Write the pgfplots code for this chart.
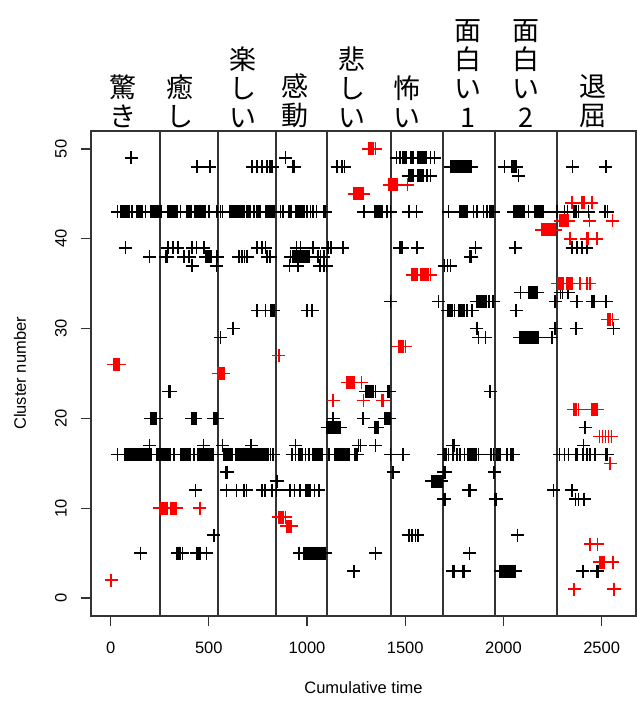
\documentclass[border=0pt]{standalone}
\usepackage{fontspec}
\setmainfont{Liberation Sans}
\newfontfamily\cjk{Noto Sans CJK JP}
\usepackage{pgfplots}
\pgfplotsset{compat=1.18}
\begin{document}
\begin{tikzpicture}
\useasboundingbox (-91bp,-91bp) rectangle (546bp,616bp);
\begin{axis}[
  at={(0,0)}, anchor=south west,
  scale only axis, width=545bp, height=485bp,
  xmin=-100, xmax=2675, ymin=-2, ymax=52,
  xtick={0,500,...,2500}, ytick={0,10,...,50},
  tick align=outside, tick pos=left,
  major tick length=10bp,
  every tick/.style={black!80, line width=1.2bp},
  axis line style={black!80, line width=1.5bp},
  /pgf/number format/assume math mode=true,
  /pgf/number format/1000 sep={},
  tick label style={font=\fontsize{16.5bp}{18bp}\selectfont},
  yticklabel style={rotate=90, anchor=south, inner sep=0pt},
  xticklabel style={anchor=north, inner sep=0pt},
  xticklabel shift=16bp, yticklabel shift=14bp,
  xlabel={Cumulative time}, ylabel={Cluster number},
  label style={font=\fontsize{16.5bp}{18bp}\selectfont},
  xlabel style={at={(axis description cs:0.5,-0.1485)}, anchor=center},
  ylabel style={at={(axis description cs:-0.1303,0.5)}, anchor=center},
  clip=false,
]
% black points
\addplot[only marks, mark=+, mark size=6.5bp, black, mark options={line width=1.6bp}] coordinates {
(105,49)(890,49)(1455,49)(1472,49)(1489,49)(1497,49)(1505,49)(1526,49)(1534,49)(1543,49)(1563,49)(1571,49)(1577,49)(1585,49)(1593,49)(1601,49)(1608,49)(1628,49)(1648,49)
(441,48)(505,48)(721,48)(746,48)(772,48)(797,48)(810,48)(816,48)(822,48)(929,48)(937,48)(1153,48)(1178,48)(1190,48)(1730,48)(1738,48)(1746,48)(1754,48)(1762,48)(1770,48)(1778,48)(1786,48)(1794,48)(1802,48)(1810,48)(1818,48)(1826,48)(1835,48)(2005,48)(2043,48)(2055,48)(2065,48)(2352,48)(2522,48)
(1518,47)(1526,47)(1534,47)(1540,47)(1563,47)(1571,47)(1579,47)(1587,47)(1591,47)(1611,47)(1628,47)(2077,47)
(34,43)(54,43)(62,43)(70,43)(78,43)(86,43)(95,43)(110,43)(132,43)(140,43)(148,43)(156,43)(161,43)(178,43)(204,43)(212,43)(220,43)(228,43)(236,43)(244,43)(252,43)(258,43)(292,43)(300,43)(308,43)(316,43)(324,43)(332,43)(339,43)(356,43)(387,43)(395,43)(403,43)(412,43)(429,43)(437,43)(445,43)(453,43)(461,43)(469,43)(477,43)(483,43)(500,43)(543,43)(560,43)(570,43)(605,43)(613,43)(621,43)(629,43)(637,43)(645,43)(653,43)(661,43)(669,43)(677,43)(682,43)(695,43)(702,43)(709,43)(729,43)(746,43)(754,43)(763,43)(790,43)(798,43)(806,43)(814,43)(822,43)(830,43)(834,43)(865,43)(878,43)(909,43)(919,43)(943,43)(951,43)(959,43)(967,43)(975,43)(983,43)(987,43)(1000,43)(1017,43)(1031,43)(1048,43)(1085,43)(1095,43)(1289,43)(1345,43)(1353,43)(1361,43)(1369,43)(1377,43)(1382,43)(1407,43)(1424,43)(1518,43)(1557,43)(1721,43)(1777,43)(1785,43)(1793,43)(1801,43)(1809,43)(1814,43)(1848,43)(1865,43)(1899,43)(1916,43)(1930,43)(1938,43)(1946,43)(1950,43)(2052,43)(2060,43)(2068,43)(2076,43)(2084,43)(2092,43)(2100,43)(2106,43)(2128,43)(2159,43)(2167,43)(2175,43)(2183,43)(2191,43)(2199,43)(2204,43)(2272,43)(2310,43)(2327,43)(2357,43)(2365,43)(2373,43)(2382,43)(2433,43)(2518,43)(2530,43)
(76,39)(292,39)(319,39)(342,39)(415,39)(437,39)(475,39)(746,39)(772,39)(789,39)(946,39)(966,39)(1031,39)(1106,39)(1122,39)(1182,39)(1472,39)(1484,39)(1560,39)(1857,39)(2060,39)(2350,39)(2375,39)(2400,39)(2425,39)
(198,38)(280,38)(288,38)(373,38)(399,38)(483,38)(491,38)(499,38)(507,38)(512,38)(543,38)(653,38)(670,38)(682,38)(695,38)(797,38)(812,38)(916,38)(930,38)(938,38)(946,38)(954,38)(962,38)(970,38)(978,38)(986,38)(994,38)(1002,38)(1009,38)(1055,38)(1068,38)(1085,38)(1831,38)(1838,38)
(415,37)(539,37)(911,37)(953,37)(1065,37)(1085,37)(1099,37)(1700,37)(1715,37)(1730,37)
(2086,34)(2128,34)(2136,34)(2144,34)(2152,34)(2160,34)(2171,34)(2290,34)(2300,34)(2330,34)
(1424,33)(1670,33)(1865,33)(1873,33)(1881,33)(1889,33)(1897,33)(1905,33)(1913,33)(1925,33)(1947,33)(2264,33)(2374,33)(2452,33)(2460,33)(2523,33)
(746,32)(789,32)(814,32)(822,32)(831,32)(1000,32)(1026,32)(1716,32)(1724,32)(1732,32)(1740,32)(1750,32)(1775,32)(1783,32)(1791,32)(1800,32)(1815,32)(1840,32)(2065,32)
(624,30)(1865,30)(2264,30)(2370,30)(2561,30)
(560,29)(1874,29)(1908,29)(2082,29)(2090,29)(2098,29)(2106,29)(2114,29)(2122,29)(2130,29)(2138,29)(2146,29)(2154,29)(2162,29)(2170,29)(2179,29)(2247,29)
(296,23)(304,23)(1297,23)(1305,23)(1313,23)(1321,23)(1329,23)(1337,23)(1348,23)(1412,23)(1418,23)(1933,23)
(204,20)(212,20)(220,20)(228,20)(234,20)(412,20)(418,20)(424,20)(430,20)(434,20)(526,20)(532,20)(538,20)(543,20)(1133,20)(1285,20)(1394,20)(1402,20)(1410,20)(1418,20)(1421,20)
(1102,19)(1110,19)(1118,19)(1126,19)(1134,19)(1142,19)(1150,19)(1158,19)(1166,19)(1170,19)(1345,19)(1353,19)(1361,19)(2416,19)
(198,17)(473,17)(570,17)(716,17)(941,17)(1262,17)(1272,17)(1348,17)(1743,17)(1748,17)(2408,17)
(34,16)(73,16)(81,16)(89,16)(97,16)(105,16)(113,16)(121,16)(129,16)(137,16)(145,16)(153,16)(161,16)(169,16)(177,16)(185,16)(193,16)(201,16)(209,16)(237,16)(245,16)(253,16)(261,16)(269,16)(277,16)(285,16)(293,16)(302,16)(324,16)(356,16)(364,16)(372,16)(380,16)(388,16)(396,16)(404,16)(407,16)(424,16)(444,16)(452,16)(460,16)(468,16)(476,16)(484,16)(492,16)(500,16)(508,16)(516,16)(524,16)(575,16)(583,16)(591,16)(599,16)(607,16)(615,16)(621,16)(636,16)(644,16)(652,16)(660,16)(668,16)(676,16)(684,16)(692,16)(700,16)(708,16)(716,16)(724,16)(732,16)(740,16)(748,16)(756,16)(764,16)(772,16)(780,16)(788,16)(797,16)(804,16)(814,16)(828,16)(924,16)(941,16)(958,16)(968,16)(975,16)(992,16)(1009,16)(1031,16)(1039,16)(1047,16)(1055,16)(1063,16)(1071,16)(1077,16)(1111,16)(1141,16)(1149,16)(1157,16)(1165,16)(1173,16)(1181,16)(1189,16)(1197,16)(1205,16)(1213,16)(1245,16)(1255,16)(1424,16)(1489,16)(1696,16)(1709,16)(1721,16)(1743,16)(1764,16)(1780,16)(1801,16)(1818,16)(1823,16)(1831,16)(1839,16)(1847,16)(1855,16)(1863,16)(1874,16)(1938,16)(1950,16)(1967,16)(1975,16)(1984,16)(2018,16)(2035,16)(2043,16)(2052,16)(2286,16)(2310,16)(2332,16)(2366,16)(2372,16)(2378,16)(2405,16)(2425,16)(2442,16)(2467,16)(2523,16)(2528,16)
(588,14)(594,14)(1438,14)(1696,14)(1704,14)(1953,14)
(844,13)(850,13)(1636,13)(1644,13)(1652,13)(1660,13)(1668,13)(1676,13)(1687,13)
(432,12)(590,12)(641,12)(678,12)(692,12)(772,12)(784,12)(789,12)(822,12)(844,12)(912,12)(936,12)(963,12)(992,12)(1000,12)(1008,12)(1014,12)(1038,12)(1060,12)(1823,12)(1830,12)(2255,12)(2349,12)
(1696,11)(1702,11)(1958,11)(1964,11)(2366,11)(2383,11)(2411,11)
(526,7)(1518,7)(1535,7)(1552,7)(1564,7)(2072,7)
(153,5)(339,5)(347,5)(355,5)(365,5)(437,5)(445,5)(452,5)(458,5)(488,5)(960,5)(984,5)(992,5)(1000,5)(1008,5)(1016,5)(1024,5)(1032,5)(1040,5)(1048,5)(1056,5)(1064,5)(1072,5)(1080,5)(1088,5)(1094,5)(1348,5)(1828,5)
(1238,3)(1743,3)(1750,3)(1793,3)(1800,3)(1984,3)(1992,3)(2000,3)(2008,3)(2016,3)(2024,3)(2032,3)(2040,3)(2048,3)(2056,3)(2060,3)(2405,3)(2476,3)(2481,3)
};
% red points
\addplot[only marks, mark=+, mark size=6.5bp, red, mark options={line width=1.6bp}] coordinates {
(1314,50)(1322,50)(1330,50)(1338,50)(1348,50)
(1418,46)(1426,46)(1434,46)(1442,46)(1450,46)(1458,46)(1512,46)
(1240,45)(1248,45)(1256,45)(1264,45)(1272,45)(1280,45)(1285,45)
(2349,44)(2400,44)(2406,44)(2411,44)(2450,44)
(2289,42)(2297,42)(2305,42)(2313,42)(2321,42)(2330,42)(2438,42)(2556,42)
(2196,41)(2204,41)(2212,41)(2220,41)(2228,41)(2236,41)(2244,41)(2252,41)(2260,41)(2264,41)
(2340,40)(2425,40)(2433,40)(2476,40)
(1535,36)(1543,36)(1551,36)(1559,36)(1563,36)(1577,36)(1585,36)(1591,36)(1602,36)(1610,36)(1618,36)(1628,36)
(2275,35)(2283,35)(2291,35)(2299,35)(2305,35)(2323,35)(2331,35)(2339,35)(2347,35)(2350,35)(2390,35)(2425,35)(2440,35)
(2530,31)(2538,31)(2546,31)(2555,31)
(1467,28)(1475,28)(1483,28)(1491,28)(1501,28)
(856,27)
(15,26)(23,26)(31,26)(39,26)(45,26)
(548,25)(556,25)(564,25)(572,25)(576,25)
(1204,24)(1212,24)(1220,24)(1228,24)(1238,24)(1278,24)
(1133,22)(1287,22)(1382,22)(1390,22)
(2357,21)(2365,21)(2373,21)(2382,21)(2450,21)(2458,21)(2466,21)(2474,21)(2479,21)
(2490,18)(2505,18)(2520,18)(2535,18)(2550,18)
(2544,15)
(249,10)(257,10)(265,10)(273,10)(281,10)(288,10)(305,10)(313,10)(321,10)(329,10)(336,10)(454,10)
(856,9)(864,9)(872,9)(880,9)(890,9)
(895,8)(903,8)(911,8)(919,8)
(2442,6)(2479,6)
(2489,4)(2497,4)(2505,4)(2513,4)(2557,4)
(3,2)
(2360,1)(2561,1)(2566,1)
};
\pgfplotsinvokeforeach{249,549,841,1102,1430,1694,1955,2274}{
  \draw[black!80, line width=2bp] (axis cs:#1,-2) -- (axis cs:#1,52);
}
\begin{scope}[every node/.style={anchor=south, inner sep=0pt, yshift=3bp, align=center, font=\cjk\fontsize{27bp}{29bp}\selectfont}]
\node at (axis cs:61,52) {驚\\き};
\node at (axis cs:351,52) {癒\\し};
\node at (axis cs:676,52) {楽\\し\\い};
\node at (axis cs:941,52) {感\\動};
\node at (axis cs:1231,52) {悲\\し\\い};
\node at (axis cs:1511,52) {怖\\い};
\node at (axis cs:1821,52) {面\\白\\い\\1};
\node at (axis cs:2116,52) {面\\白\\い\\2};
\node at (axis cs:2457,52) {退\\屈};
\end{scope}
\end{axis}
\end{tikzpicture}
\end{document}
